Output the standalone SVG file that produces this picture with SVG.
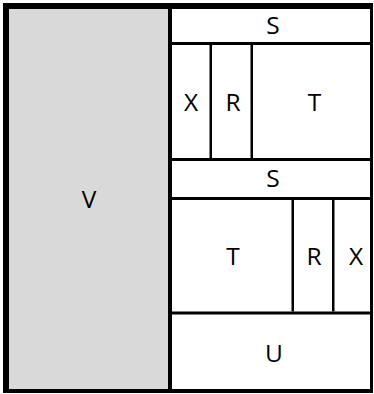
<svg xmlns="http://www.w3.org/2000/svg" width="374" height="394" viewBox="0 0 374 394">
<style>
.cell{fill:#ffffff}
.v{fill:#d9d9d9}
.ln{fill:#000000}
text{font-family:"Open Sans","Noto Sans",sans-serif;font-size:24.5px;fill:#000000;text-anchor:middle}
</style>
<rect x="0" y="0" width="374" height="394" fill="#ffffff"/>
<g id="V"><rect class="v" x="9" y="9" width="159" height="380"/><text x="89" y="208">V</text></g>
<g id="S1"><rect class="cell" x="172" y="9" width="198" height="33"/><text x="273" y="34">S</text></g>
<g id="X1"><rect class="cell" x="172" y="45" width="37" height="113"/><text x="191" y="111">X</text></g>
<g id="R1"><rect class="cell" x="212" y="45" width="39" height="113"/><text x="233" y="111">R</text></g>
<g id="T1"><rect class="cell" x="253" y="45" width="117" height="113"/><text x="314.5" y="111">T</text></g>
<g id="S2"><rect class="cell" x="172" y="161" width="198" height="36"/><text x="273" y="187">S</text></g>
<g id="T2"><rect class="cell" x="172" y="200" width="120" height="111.5"/><text x="233" y="265">T</text></g>
<g id="R2"><rect class="cell" x="294" y="200" width="38" height="111.5"/><text x="314" y="265">R</text></g>
<g id="X2"><rect class="cell" x="334.5" y="200" width="35.5" height="111.5"/><text x="356" y="265">X</text></g>
<g id="U"><rect class="cell" x="172" y="314.5" width="198" height="74.5"/><text x="274" y="362">U</text></g>
<g id="connectors">
<rect class="ln" x="3" y="3" width="370" height="6"/>
<rect class="ln" x="3" y="3" width="6" height="390"/>
<rect class="ln" x="370" y="3" width="3" height="390"/>
<rect class="ln" x="3" y="389" width="370" height="4"/>
<rect class="ln" x="168" y="3" width="4" height="390"/>
<rect class="ln" x="172" y="42" width="198" height="3"/>
<rect class="ln" x="172" y="158" width="198" height="3"/>
<rect class="ln" x="172" y="197" width="198" height="3"/>
<rect class="ln" x="172" y="311.5" width="198" height="3"/>
<rect class="ln" x="209.5" y="45" width="2.5" height="113"/>
<rect class="ln" x="250.5" y="45" width="2.5" height="113"/>
<rect class="ln" x="291.5" y="200" width="2.5" height="111.5"/>
<rect class="ln" x="332" y="200" width="2.5" height="111.5"/>
</g>
</svg>
